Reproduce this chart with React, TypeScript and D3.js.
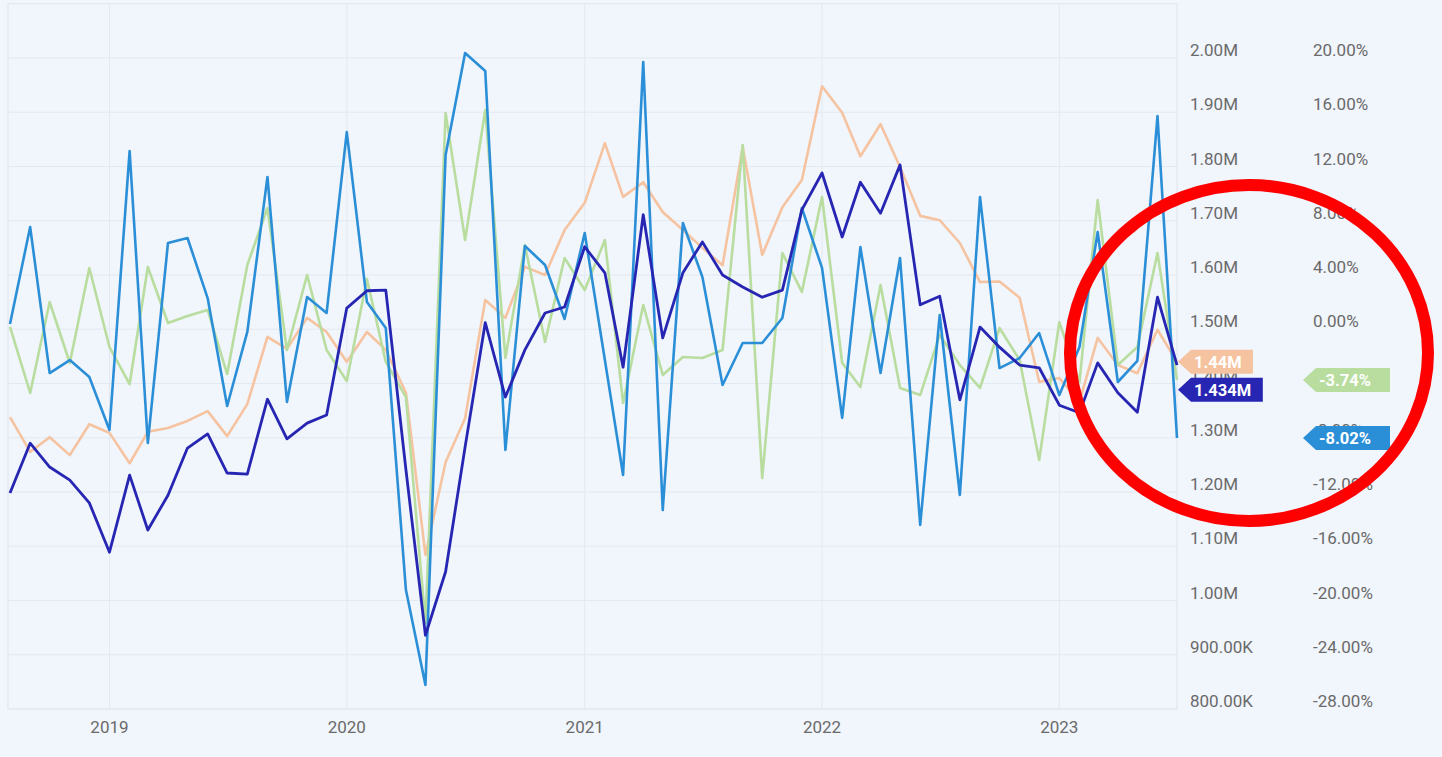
import React from "react";
import * as d3 from "d3";

const monthLabels: string[] = [
  "2018-08","2018-09","2018-10","2018-11","2018-12",
  "2019-01","2019-02","2019-03","2019-04","2019-05","2019-06","2019-07","2019-08","2019-09","2019-10","2019-11","2019-12",
  "2020-01","2020-02","2020-03","2020-04","2020-05","2020-06","2020-07","2020-08","2020-09","2020-10","2020-11","2020-12",
  "2021-01","2021-02","2021-03","2021-04","2021-05","2021-06","2021-07","2021-08","2021-09","2021-10","2021-11","2021-12",
  "2022-01","2022-02","2022-03","2022-04","2022-05","2022-06","2022-07","2022-08","2022-09","2022-10","2022-11","2022-12",
  "2023-01","2023-02","2023-03","2023-04","2023-05","2023-06","2023-07",
];

// Left axis series (millions)
const darkBlueValues: number[] = [
  1.198,1.290,1.246,1.222,1.180,1.089,1.231,1.130,1.194,1.281,1.307,1.235,1.233,1.371,1.298,1.327,1.342,
  1.539,1.571,1.572,1.241,0.936,1.053,1.283,1.512,1.375,1.462,1.530,1.541,
  1.652,1.604,1.430,1.711,1.484,1.604,1.661,1.600,1.578,1.559,1.572,1.720,
  1.788,1.670,1.771,1.714,1.803,1.545,1.561,1.370,1.504,1.467,1.434,1.429,
  1.360,1.346,1.438,1.383,1.347,1.559,1.434,
];
const peachValues: number[] = [
  1.338,1.274,1.301,1.268,1.325,1.309,1.253,1.311,1.318,1.331,1.349,1.303,1.362,1.486,1.464,1.521,1.495,
  1.440,1.495,1.462,1.383,1.084,1.255,1.336,1.554,1.521,1.615,1.600,1.683,
  1.733,1.843,1.744,1.771,1.716,1.683,1.650,1.618,1.836,1.637,1.725,1.775,
  1.948,1.899,1.819,1.878,1.799,1.709,1.701,1.659,1.587,1.588,1.558,1.403,
  1.410,1.366,1.484,1.434,1.419,1.499,1.440,
];
// Right axis series (percent)
const greenValues: number[] = [
  0.17,-4.70,2.01,-2.49,4.52,-1.31,-4.04,4.59,0.46,0.98,1.42,-3.30,4.74,8.94,-1.53,4.00,-1.53,
  -3.82,3.71,-2.41,-5.00,-21.66,15.94,6.58,16.17,-2.12,6.21,-0.94,5.25,
  2.89,6.58,-5.44,1.79,-3.37,-2.05,-2.12,-1.53,13.59,-10.97,5.62,2.75,
  9.75,-2.49,-4.26,3.26,-4.33,-4.85,-0.42,-2.64,-4.33,0.09,-2.27,-9.64,
  0.53,-3.89,9.53,-2.64,-1.31,5.62,-3.74,
];
const blueValues: number[] = [
  0.39,7.54,-3.23,-2.27,-3.52,-7.43,13.14,-8.39,6.36,6.73,2.30,-5.66,-0.20,11.23,-5.36,2.38,1.20,
  14.54,2.01,0.09,-19.23,-26.23,12.85,20.37,19.04,-8.90,6.14,4.74,0.76,
  7.10,-2.27,-10.75,19.71,-13.33,7.83,3.85,-4.11,-1.01,-1.01,0.83,8.94,
  4.52,-6.54,6.06,-3.23,5.25,-14.43,1.05,-12.22,9.75,-2.86,-2.12,-0.28,
  -4.85,-1.31,7.17,-3.89,-2.34,15.72,-8.02,
];

const leftTicks: number[] = [0.8,0.9,1.0,1.1,1.2,1.3,1.4,1.5,1.6,1.7,1.8,1.9,2.0];
const rightTicks: number[] = [-28,-24,-20,-16,-12,-8,-4,0,4,8,12,16,20];
const yearTicks: string[] = ["2019","2020","2021","2022","2023"];

const W = 1442, H = 757;
const plotL = 8, plotR = 1177, plotT = 3.75, plotB = 709;
const FONT = "Roboto, 'Noto Sans', sans-serif";
const BG = "#f1f5fc";
const GRID = "#e3e9f2";
const AXIS_TEXT = "#6a6a6a";

const C_DARK = "#2626b3";
const C_BLUE = "#2b8fd8";
const C_PEACH = "#f6c3a1";
const C_GREEN = "#b8dd9f";

const locale = d3.formatLocale({ decimal: ".", thousands: ",", grouping: [3], currency: ["$", ""], minus: "-" });
const f2 = locale.format(".2f");
const f3 = locale.format(".3f");

const parse = d3.timeParse("%Y-%m");
const dates = monthLabels.map((m) => parse(m) as Date);

const x = d3.scaleTime().domain([dates[0], dates[dates.length - 1]]).range([10, plotR]);
const yL = d3.scaleLinear().domain([0.8, 2.1]).range([plotB, plotT]);
const yR = d3.scaleLinear().domain([-28, 24]).range([plotB, plotT]);

const fmtLeft = (v: number) => (v >= 1 ? f2(v) + "M" : f2(v * 1000) + "K");
const fmtRight = (v: number) => f2(v) + "%";

function lineFor(vals: number[], y: d3.ScaleLinear<number, number>) {
  return d3
    .line<number>()
    .x((_, i) => x(dates[i]))
    .y((v) => y(v))(vals) as string;
}

type Tag = { text: string; y: number; color: string };

function dodge(tags: Tag[], gap: number): Tag[] {
  const s = [...tags].sort((a, b) => a.y - b.y);
  for (let i = 1; i < s.length; i++) {
    if (s[i].y < s[i - 1].y + gap) s[i].y = s[i - 1].y + gap;
  }
  return s;
}

function TagShape({ x0, t, width }: { x0: number; t: Tag; width: number }) {
  const h = 24;
  const pts = [
    [x0, t.y],
    [x0 + 13, t.y - h / 2],
    [x0 + width, t.y - h / 2],
    [x0 + width, t.y + h / 2],
    [x0 + 13, t.y + h / 2],
  ]
    .map((p) => p.join(","))
    .join(" ");
  return (
    <g>
      <polygon points={pts} fill={t.color} />
      <text x={x0 + 16} y={t.y + 6} fill="#ffffff" fontSize={16.5} fontWeight={700} fontFamily={FONT}>
        {t.text}
      </text>
    </g>
  );
}

export default function App() {
  const last = darkBlueValues.length - 1;
  const leftTags = dodge(
    [
      { text: f2(peachValues[last]).replace(/0$/, "") + "M", y: yL(peachValues[last]), color: C_PEACH },
      { text: f3(darkBlueValues[last]) + "M", y: yL(darkBlueValues[last]), color: C_DARK },
    ],
    28
  );
  const rightTags = dodge(
    [
      { text: fmtRight(greenValues[last]), y: yR(greenValues[last]), color: C_GREEN },
      { text: fmtRight(blueValues[last]), y: yR(blueValues[last]), color: C_BLUE },
    ],
    28
  );

  const yearDates = yearTicks.map((y) => new Date(+y, 0, 1));

  return (
    <div style={{ position: "fixed", left: 0, top: 0, width: W, height: H, background: BG }}>
      <svg width={W} height={H} style={{ display: "block" }}>
        <rect x={0} y={0} width={W} height={H} fill={BG} />
        {leftTicks.map((t) => (
          <line key={"g" + t} x1={plotL} x2={plotR} y1={yL(t)} y2={yL(t)} stroke={GRID} strokeWidth={1} />
        ))}
        {yearDates.map((d, i) => (
          <line key={"v" + i} x1={x(d)} x2={x(d)} y1={plotT} y2={plotB} stroke={GRID} strokeWidth={1} />
        ))}
        <rect x={plotL} y={plotT} width={plotR - plotL} height={plotB - plotT} fill="none" stroke="#e1e7f0" strokeWidth={1.2} />

        {leftTicks.map((t) => (
          <text key={"l" + t} x={1190} y={yL(t) - 2} fill={AXIS_TEXT} fontSize={17} fontFamily={FONT}>
            {fmtLeft(t)}
          </text>
        ))}
        {rightTicks.map((t) => (
          <text key={"r" + t} x={1313} y={yR(t) - 2} fill={AXIS_TEXT} fontSize={17} fontFamily={FONT}>
            {fmtRight(t)}
          </text>
        ))}
        {yearDates.map((d, i) => (
          <text key={"x" + i} x={x(d)} y={733} fill={AXIS_TEXT} fontSize={17} fontFamily={FONT} textAnchor="middle">
            {yearTicks[i]}
          </text>
        ))}

        <path d={lineFor(peachValues, yL)} fill="none" stroke={C_PEACH} strokeWidth={2.6} strokeLinejoin="round" />
        <path d={lineFor(greenValues, yR)} fill="none" stroke={C_GREEN} strokeWidth={2.6} strokeLinejoin="round" />
        <path d={lineFor(blueValues, yR)} fill="none" stroke={C_BLUE} strokeWidth={2.6} strokeLinejoin="round" />
        <path d={lineFor(darkBlueValues, yL)} fill="none" stroke={C_DARK} strokeWidth={2.8} strokeLinejoin="round" />

        {leftTags.map((t, i) => (
          <TagShape key={"lt" + i} x0={1178} t={t} width={26 + t.text.length * 9.8} />
        ))}
        {rightTags.map((t, i) => (
          <TagShape key={"rt" + i} x0={1303} t={t} width={87} />
        ))}

        <ellipse cx={1249} cy={353} rx={179} ry={168} fill="none" stroke="#fe0000" strokeWidth={12} />
      </svg>
    </div>
  );
}
